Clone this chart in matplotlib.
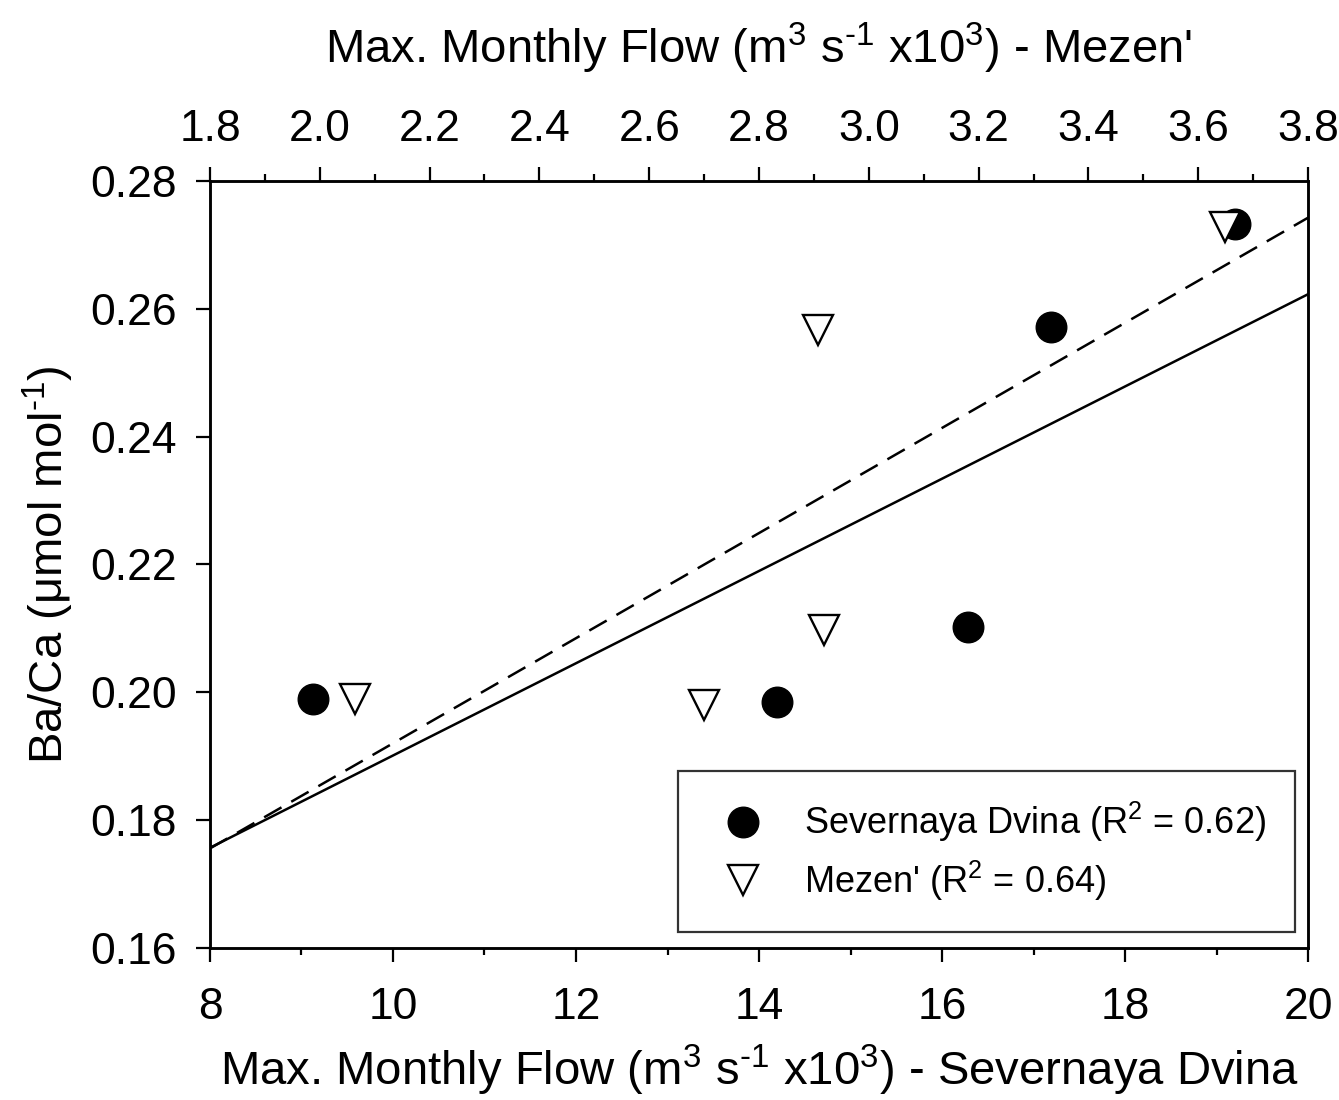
import numpy as np
import matplotlib
matplotlib.use("Agg")
import matplotlib.pyplot as plt
from matplotlib.ticker import MultipleLocator

plt.rcParams['font.family'] = ['Liberation Sans', 'DejaVu Sans']
plt.rcParams['mathtext.default'] = 'regular'
fam = ['Liberation Sans', 'DejaVu Sans']

# Severnaya Dvina (bottom axis)
dvina_flow = [9.13, 14.20, 16.28, 17.19, 19.20]
dvina_baca = [0.1990, 0.1985, 0.2102, 0.2572, 0.2733]

# Mezen' (top axis)
mezen_flow = [2.064, 2.700, 2.907, 2.918, 3.649]
mezen_baca = [0.1990, 0.1980, 0.2567, 0.2098, 0.2728]

fig = plt.figure(figsize=(13.39, 11.0), dpi=100)
ax = fig.add_axes([0.1568, 0.1382, 0.8201, 0.6973])
ax2 = ax.twiny()

# regression lines
p1 = np.polyfit(dvina_flow, dvina_baca, 1)
xs1 = np.array([8, 20])
ax.plot(xs1, np.polyval(p1, xs1), color='black', lw=1.8, zorder=2)
p2 = np.polyfit(mezen_flow, mezen_baca, 1)
xs2 = np.array([1.8, 3.8])
ax2.plot(xs2, np.polyval(p2, xs2), color='black', lw=1.8, ls=(0, (8, 4.5)), zorder=2)

h1, = ax.plot(dvina_flow, dvina_baca, 'o', ms=22, mfc='black', mec='black',
              ls='none', zorder=3)
h2, = ax2.plot(mezen_flow, mezen_baca, 'v', ms=22, mfc='white', mec='black',
               mew=1.7, ls='none', zorder=3)

ax.set_xlim(8, 20)
ax.set_ylim(0.16, 0.28)

ax.xaxis.set_major_locator(MultipleLocator(2))
ax.xaxis.set_minor_locator(MultipleLocator(1))
ax.set_yticks([0.16, 0.18, 0.20, 0.22, 0.24, 0.26, 0.28])
ax.set_yticklabels(["0.16", "0.18", "0.20", "0.22", "0.24", "0.26", "0.28"])
ax2.set_xticks([1.8, 2.0, 2.2, 2.4, 2.6, 2.8, 3.0, 3.2, 3.4, 3.6, 3.8])
ax2.set_xticklabels(["1.8", "2.0", "2.2", "2.4", "2.6", "2.8", "3.0", "3.2", "3.4", "3.6", "3.8"])
ax2.xaxis.set_minor_locator(MultipleLocator(0.1))
ax2.set_xlim(1.8, 3.8)

for a in (ax, ax2):
    for s in a.spines.values():
        s.set_linewidth(1.8)

ax.tick_params(axis='y', which='major', direction='out', length=10, width=1.6, labelsize=32, pad=14)
ax.tick_params(axis='x', which='major', direction='out', length=10, width=1.6, labelsize=32, pad=18)
ax.tick_params(axis='x', which='minor', direction='out', length=5, width=1.6)
ax2.tick_params(axis='x', which='major', direction='out', length=10, width=1.6, labelsize=32, pad=12)
ax2.tick_params(axis='x', which='minor', direction='out', length=5, width=1.6)

hy = '\u2010'
ax.set_xlabel(r"Max. Monthly Flow (m$^3$ s$^{" + hy + r"1}$ x10$^3$) - Severnaya Dvina",
              fontsize=34, family=fam, labelpad=11)
ax2.set_xlabel(r"Max. Monthly Flow (m$^3$ s$^{" + hy + r"1}$ x10$^3$) - Mezen'",
               fontsize=34, family=fam, labelpad=33)
ax.set_ylabel(r"Ba/Ca ($\mu$mol mol$^{" + hy + r"1}$)", fontsize=34, family=fam, labelpad=10)

leg = ax2.legend([h1, h2], [r"Severnaya Dvina (R$^2$ = 0.62)", r"Mezen' (R$^2$ = 0.64)"],
                 loc='lower right', bbox_to_anchor=(0.988, 0.021), borderaxespad=0,
                 prop={'family': fam, 'size': 26}, frameon=True, fancybox=False,
                 borderpad=0.8, handletextpad=0.7, labelspacing=0.4, markerscale=1.0)
leg.get_frame().set_edgecolor('black')
leg.get_frame().set_linewidth(1.6)

fig.savefig("out.png", dpi=100)
